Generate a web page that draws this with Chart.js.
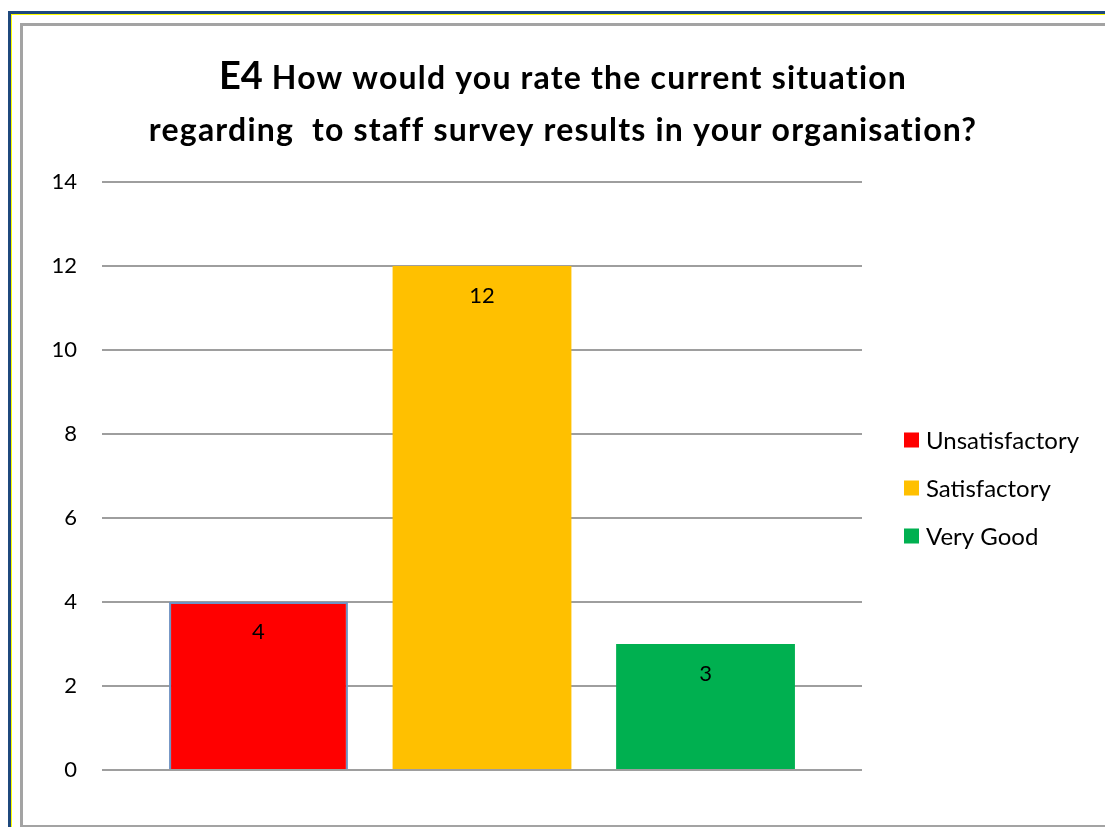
<!DOCTYPE html>
<html>
<head>
<meta charset="utf-8">
<script src="https://cdn.jsdelivr.net/npm/chart.js@4/dist/chart.umd.min.js"></script>
<style>
  html, body { margin: 0; padding: 0; background: #ffffff; width: 1105px; height: 827px; overflow: hidden; }
  .outer { position: absolute; left: 8px; top: 11px; width: 1200px; height: 900px;
           border-left: 3px solid #1f497d; border-top: 3px solid #1f497d; }
  .inner-line { position: absolute; left: 11px; top: 14px; width: 1200px; height: 900px;
           border-left: 1px solid #ffff00; border-top: 1px solid #ffff00; }
  .frame { position: absolute; left: 20px; top: 23px; width: 1200px; height: 799px;
           border: 3px solid #a3a3a3; background: #ffffff; }
  #wrap { position: absolute; left: 0; top: 0; width: 1105px; height: 827px; }
</style>
</head>
<body>
<div class="outer"></div>
<div class="inner-line"></div>
<div class="frame"></div>
<div id="wrap"><canvas id="chart" width="1105" height="827"></canvas></div>
<script>
// Survey answers and counts
const categories = ['Unsatisfactory', 'Satisfactory', 'Very Good'];
const counts = [4, 12, 3];
const barColors = ['#ff0000', '#ffc000', '#00b050'];
const barBorderColors = ['#7093c3', 'rgba(0,0,0,0)', 'rgba(0,0,0,0)'];
const yTicks = [0, 2, 4, 6, 8, 10, 12, 14];
const titlePrefix = 'E4';
const titleLine1 = ' How would you rate the current situation';
const titleLine2 = 'regarding  to staff survey results in your organisation?';

const FONT = 'Lato, "Open Sans", sans-serif';

// Two-line title with a larger question number
const titlePlugin = {
  id: 'surveyTitle',
  afterDraw(chart) {
    const ctx = chart.ctx;
    const cx = 563;
    ctx.save();
    ctx.fillStyle = '#000000';
    ctx.textBaseline = 'alphabetic';
    const bigFont = 'bold 38px ' + FONT;
    const smallFont = 'bold 32px ' + FONT;
    ctx.font = bigFont;
    ctx.letterSpacing = '0px';
    const w1 = ctx.measureText(titlePrefix).width;
    ctx.font = smallFont;
    ctx.letterSpacing = '1.2px';
    const w2 = ctx.measureText(titleLine1).width;
    const x = cx - (w1 + w2) / 2;
    ctx.textAlign = 'left';
    ctx.font = bigFont;
    ctx.letterSpacing = '0px';
    ctx.fillText(titlePrefix, x, 89);
    ctx.font = smallFont;
    ctx.letterSpacing = '1.2px';
    ctx.fillText(titleLine1, x + w1, 89);
    const w3 = ctx.measureText(titleLine2).width;
    ctx.fillText(titleLine2, cx - w3 / 2, 141);
    ctx.restore();
  }
};

// Value labels just inside the top of each bar
const valueLabelPlugin = {
  id: 'valueLabels',
  afterDatasetsDraw(chart) {
    const ctx = chart.ctx;
    const meta = chart.getDatasetMeta(0);
    ctx.save();
    ctx.font = '22px ' + FONT;
    ctx.fillStyle = '#000000';
    ctx.textAlign = 'center';
    ctx.textBaseline = 'middle';
    meta.data.forEach((bar, i) => {
      ctx.fillText(String(counts[i]), bar.x, bar.y + 30);
    });
    ctx.restore();
  }
};

// Legend at the right, one entry per answer
const sideLegendPlugin = {
  id: 'sideLegend',
  afterDraw(chart) {
    const ctx = chart.ctx;
    const x0 = chart.chartArea.right + 42;
    const yMid = (chart.chartArea.top + chart.chartArea.bottom) / 2 + 12;
    const step = 48;
    ctx.save();
    ctx.font = '24px ' + FONT;
    ctx.textAlign = 'left';
    ctx.textBaseline = 'middle';
    categories.forEach((name, i) => {
      const y = yMid + (i - 1) * step;
      ctx.fillStyle = barColors[i];
      ctx.fillRect(x0, y - 7.5, 15, 15);
      ctx.fillStyle = '#000000';
      ctx.fillText(name, x0 + 22, y + 1);
    });
    ctx.restore();
  }
};

new Chart(document.getElementById('chart'), {
  type: 'bar',
  data: {
    datasets: [{
      data: counts.map((v, i) => ({ x: i, y: v })),
      backgroundColor: barColors,
      borderColor: barBorderColors,
      borderWidth: [2, 0, 0],
      barPercentage: 1.0,
      categoryPercentage: 0.8
    }]
  },
  options: {
    responsive: false,
    animation: false,
    layout: { padding: { left: 0, top: 182, right: 243, bottom: 57 } },
    plugins: {
      legend: { display: false },
      title: { display: false },
      tooltip: { enabled: false }
    },
    scales: {
      x: {
        type: 'linear',
        min: -0.7,
        max: 2.7,
        offset: false,
        afterBuildTicks(scale) { scale.ticks = counts.map((v, i) => ({ value: i })); },
        display: false
      },
      y: {
        min: 0,
        max: 14,
        afterBuildTicks(scale) { scale.ticks = yTicks.map(v => ({ value: v })); },
        afterFit(scale) { scale.width = 102; },
        border: { display: false },
        grid: { color: '#9e9e9e', lineWidth: 2, drawTicks: false },
        ticks: { font: { family: FONT, size: 22 }, color: '#000000', padding: 25 }
      }
    }
  },
  plugins: [titlePlugin, valueLabelPlugin, sideLegendPlugin]
});
</script>
</body>
</html>
